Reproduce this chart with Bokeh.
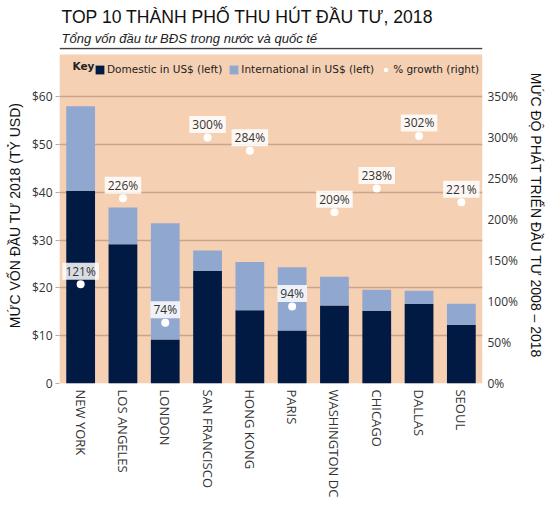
import math
from bokeh.plotting import figure
from bokeh.models import (ColumnDataSource, Range1d, LinearAxis, FixedTicker, Legend,
                          LegendItem, Title, Span, BoxAnnotation, Label)
from bokeh.core.properties import value
from bokeh.embed import file_html
from bokeh.resources import INLINE

# ---------------- data ----------------
cities = ["NEW YORK", "LOS ANGELES", "LONDON", "SAN FRANCISCO", "HONG KONG",
          "PARIS", "WASHINGTON DC", "CHICAGO", "DALLAS", "SEOUL"]
domestic = [40.3, 29.1, 9.2, 23.6, 15.3, 11.1, 16.3, 15.2, 16.6, 12.3]
international = [17.7, 7.7, 24.3, 4.2, 10.1, 13.2, 6.0, 4.4, 2.8, 4.4]
growth = [121, 226, 74, 300, 284, 94, 209, 238, 302, 221]
growth_labels = ["121%", "226%", "74%", "300%", "284%", "94%", "209%", "238%", "302%", "221%"]

usd_ticks = [0, 10, 20, 30, 40, 50, 60]
usd_tick_labels = ["0", "$10", "$20", "$30", "$40", "$50", "$60"]
pct_ticks = [0, 50, 100, 150, 200, 250, 300, 350]
pct_tick_labels = ["0%", "50%", "100%", "150%", "200%", "250%", "300%", "350%"]

title_text = "TOP 10 THÀNH PHỐ THU HÚT ĐẦU TƯ, 2018"
subtitle_text = "Tổng vốn đầu tư BĐS trong nước và quốc tế"
left_label = "MỨC VỐN ĐẦU TƯ 2018 (TỶ USD)"
right_label = "MỨC ĐỘ PHÁT TRIỂN ĐẦU TƯ 2008 – 2018"

# ---------------- style ----------------
NAVY = "#001a43"
LIGHT = "#90a7cf"
BG = "#f5d0b3"
GRID = "#c9a58c"
TXT = "#333333"
NUM_FONT = "Open Sans"
KEY_FONT = "DejaVu Sans"
HEAD_FONT = "Liberation Sans"

PX_PER_USD = 4.782
Y_BAND = 68.8                      # top of the peach panel
Y_TOP = Y_BAND + 7 / PX_PER_USD    # frame top (rule line)
PCT_PER_USD = 350 / 60

source = ColumnDataSource(dict(city=cities, domestic=domestic, international=international,
                               growth=growth, glabel=growth_labels))

p = figure(x_range=cities, y_range=Range1d(0, Y_TOP), width=547, height=507,
           output_backend="svg", toolbar_location=None,
           min_border_left=59, min_border_right=64, min_border_top=47, min_border_bottom=124,
           background_fill_color="white", border_fill_color="white", outline_line_color=None)
p.extra_y_ranges = {"pct": Range1d(0, Y_TOP * PCT_PER_USD)}

# peach panel behind the grid
p.add_layout(BoxAnnotation(bottom=0, top=Y_BAND, fill_color=BG, fill_alpha=1,
                           line_color=None, level="image"))
# rule under the subtitle
p.add_layout(Span(location=Y_BAND + 6 / PX_PER_USD, dimension="width",
                  line_color="#444444", line_width=1.5))

bars = p.vbar_stack(["domestic", "international"], x="city", width=0.68,
                    color=[NAVY, LIGHT], line_color=None, source=source)

dots = p.scatter(x="city", y="growth", y_range_name="pct", size=8, color="white",
                 line_color=None, source=source)

p.text(x="city", y="growth", text="glabel", y_range_name="pct", source=source,
       y_offset=-13, text_align="center", text_baseline="middle",
       text_font=value(NUM_FONT), text_font_size="12px", text_color=TXT,
       background_fill_color="white", background_fill_alpha=0.85, padding=(3, 0))

# ---- axes ----
yax = p.yaxis[0]
yax.ticker = FixedTicker(ticks=usd_ticks)
yax.major_label_overrides = dict(zip(usd_ticks, usd_tick_labels))
yax.axis_line_color = None
yax.major_tick_in = 0
yax.major_tick_out = 4
yax.major_tick_line_color = GRID
yax.minor_tick_line_color = None
yax.major_label_standoff = 3
yax.major_label_text_font = NUM_FONT
yax.major_label_text_font_size = "12px"
yax.major_label_text_color = TXT
yax.axis_label = left_label
yax.axis_label_text_font = HEAD_FONT
yax.axis_label_text_font_size = "14px"
yax.axis_label_text_font_style = "normal"
yax.axis_label_text_color = "#111111"
yax.axis_label_standoff = 6

rax = LinearAxis(y_range_name="pct", ticker=FixedTicker(ticks=pct_ticks),
                 major_label_overrides=dict(zip(pct_ticks, pct_tick_labels)),
                 axis_line_color=None, major_tick_line_color=None, minor_tick_line_color=None,
                 major_tick_out=0, major_tick_in=0,
                 major_label_standoff=5, major_label_text_font=NUM_FONT,
                 major_label_text_font_size="12px", major_label_text_color=TXT,
                 axis_label=right_label, axis_label_text_font=HEAD_FONT,
                 axis_label_text_font_size="14px", axis_label_text_font_style="normal",
                 axis_label_text_color="#111111", axis_label_standoff=7)
p.add_layout(rax, "right")

xax = p.xaxis[0]
xax.axis_line_color = None
xax.major_tick_line_color = None
xax.major_tick_out = 0
xax.major_tick_in = 0
xax.major_label_orientation = "vertical"
xax.major_label_standoff = 6
xax.major_label_text_font = NUM_FONT
xax.major_label_text_font_size = "13px"
xax.major_label_text_color = TXT

p.xgrid.grid_line_color = None
p.ygrid.grid_line_color = GRID
p.ygrid.grid_line_width = 1.5

# ---- titles ----
p.title.text = title_text
p.title.text_font = HEAD_FONT
p.title.text_font_style = "normal"
p.title.text_font_size = "17.6px"
p.title.text_color = "#111111"
p.title.standoff = 2
p.title.offset = 2
p.add_layout(Title(text=subtitle_text, text_font=HEAD_FONT, text_font_style="italic",
                   text_font_size="13px", text_color="#222222", standoff=3, offset=2), "above")

# ---- legend ----
legend = Legend(items=[LegendItem(label="Domestic in US$ (left)", renderers=[bars[0]]),
                       LegendItem(label="International in US$ (left)", renderers=[bars[1]]),
                       LegendItem(label="% growth (right)", renderers=[dots])],
                orientation="horizontal",
                location=(35, 308), glyph_width=11, glyph_height=11, label_height=11,
                label_standoff=2, spacing=6, padding=4, margin=0,
                label_text_font=KEY_FONT, label_text_font_size="10.5px", label_text_color="#222222",
                background_fill_alpha=0, border_line_color=None)
p.add_layout(legend)
p.add_layout(Label(x=0.825, y=Y_BAND - 11.5 / PX_PER_USD, text="Key", text_align="right",
                   text_baseline="middle", text_font=KEY_FONT, text_font_size="10.5px",
                   text_font_style="bold", text_color="#222222"))

open("out.html", "w").write(file_html(p, INLINE))
